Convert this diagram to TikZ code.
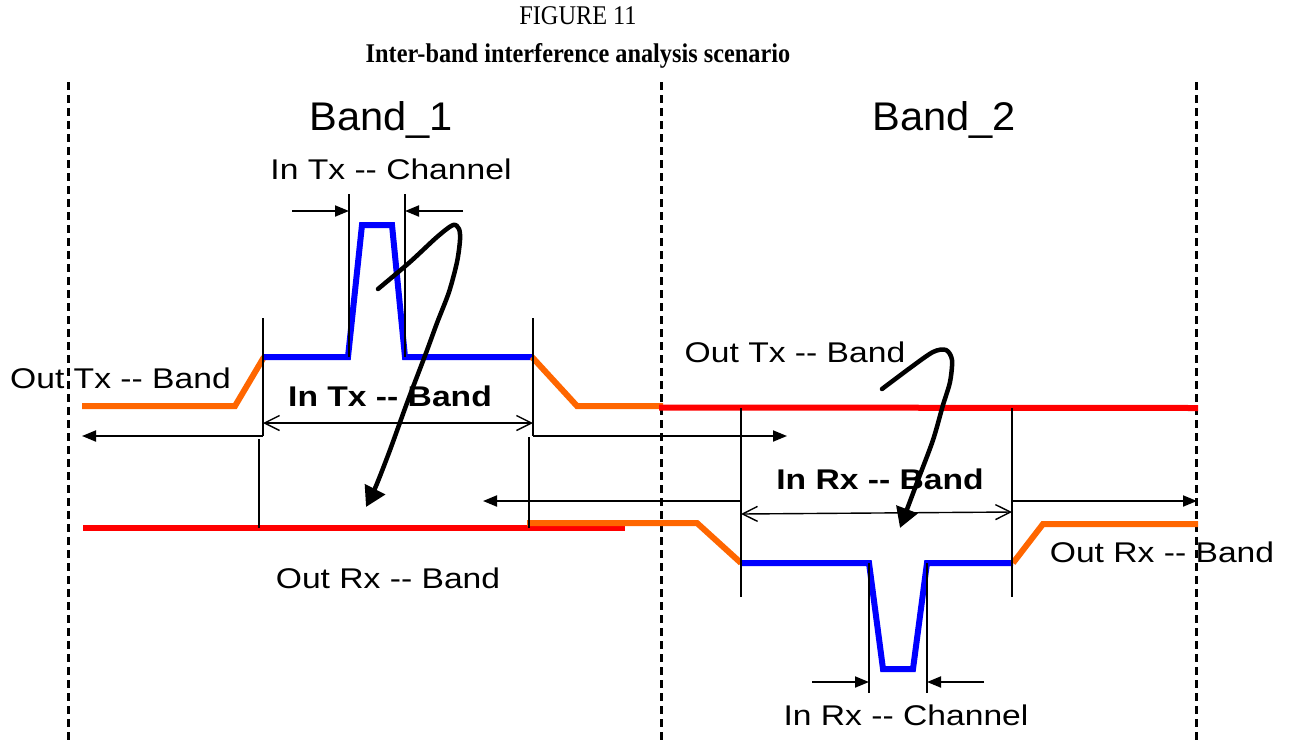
\documentclass[tikz,border=0pt]{standalone}
\usepackage{fontspec}
\setmainfont{Liberation Serif}
\newfontfamily\titlefont[FakeStretch=0.9]{Liberation Serif}
\newfontfamily\labfont[FakeStretch=1.18]{Liberation Sans}
\newfontfamily\bandfont[FakeStretch=1.04]{Liberation Sans}
\usetikzlibrary{arrows.meta}
\definecolor{bandblue}{RGB}{0,0,255}
\definecolor{bandorange}{RGB}{255,102,0}
\definecolor{bandred}{RGB}{255,0,0}
\begin{document}
\begin{tikzpicture}[x=1pt,y=-1pt,
  lbl/.style={font=\labfont\fontsize{28.5}{34}\selectfont, anchor=base, inner sep=0pt},
  boldlbl/.style={font=\labfont\bfseries\fontsize{28.5}{34}\selectfont, anchor=base, inner sep=0pt},
  bandlbl/.style={font=\bandfont\fontsize{40}{46}\selectfont, anchor=base, inner sep=0pt},
  ttl/.style={font=\titlefont\fontsize{27}{32}\selectfont, anchor=base, inner sep=0pt},
  guide/.style={line width=1.7pt},
  dimline/.style={line width=1.4pt, {Straight Barb[length=15pt,width=15pt]}-{Straight Barb[length=15pt,width=15pt]}},
  farrow/.style={line width=1.9pt, -{Triangle[length=14pt,width=11pt]}},
  sepline/.style={line width=3pt, dash pattern=on 8pt off 5pt},
  sigblue/.style={line width=6pt, draw=bandblue},
  sigorange/.style={line width=6pt, draw=bandorange},
  sigred/.style={line width=6pt, draw=bandred},
  curvearrow/.style={line width=4.5pt, line cap=round, line join=round, -{Triangle[length=20pt,width=22pt]}}
]
\useasboundingbox (0,0) rectangle (1291,740);

% titles
\node[ttl] (fig) at (578,24) {FIGURE 11};
\node[ttl,font=\titlefont\bfseries\fontsize{27}{32}\selectfont] (title) at (578,62) {Inter-band interference analysis scenario};

% separators
\coordinate (s1t) at (68,82);   \coordinate (s1b) at (68,740);
\coordinate (s2t) at (661,82);  \coordinate (s2b) at (661,740);
\coordinate (s3t) at (1196,82); \coordinate (s3b) at (1196,740);
\draw[sepline] (s1t) -- (s1b);
\draw[sepline] (s2t) -- (s2b);
\draw[sepline] (s3t) -- (s3b);

% ---------- Band 1 (Tx) ----------
\draw[sigorange] (82,406) -- (235,406) -- (264,357);
\draw[sigblue] (264,357) -- (348,357) -- (362,225) -- (392,225) -- (405,357) -- (532,357);
\draw[sigorange] (532,357) -- (577,406) -- (663,406);
\draw[sigred] (659,407.5) -- (1198,408);

% lower left red and orange
\draw[sigred] (83,528) -- (625,528);
\draw[sigorange] (527,523) -- (697,523) -- (741,563);

% ---------- Band 2 (Rx) ----------
\draw[sigblue] (741,563) -- (869,563) -- (883,669) -- (913,669) -- (927,563) -- (1013,563);
\draw[sigorange] (1013,563) -- (1043,524) -- (1198,524);

% guide lines band 1
\coordinate (g1t) at (263,318); \coordinate (g1b) at (263,436);
\coordinate (g2t) at (533,318); \coordinate (g2b) at (533,436);
\coordinate (c1t) at (349,194); \coordinate (c1b) at (349,357);
\coordinate (c2t) at (405,194); \coordinate (c2b) at (405,357);
\draw[guide] (g1t) -- (g1b);
\draw[guide] (g2t) -- (g2b);
\draw[guide] (c1t) -- (c1b);
\draw[guide] (c2t) -- (c2b);
\coordinate (l1t) at (259,439); \coordinate (l1b) at (259,528);
\coordinate (l2t) at (529,437); \coordinate (l2b) at (529,528);
\draw[guide] (l1t) -- (l1b);
\draw[guide] (l2t) -- (l2b);

% guide lines band 2
\coordinate (r1t) at (741,408); \coordinate (r1b) at (741,597);
\coordinate (r2t) at (1012,408); \coordinate (r2b) at (1012,597);
\draw[guide] (r1t) -- (r1b);
\draw[guide] (r2t) -- (r2b);
\coordinate (d1t) at (869,563); \coordinate (d1b) at (869,693);
\coordinate (d2t) at (927,563); \coordinate (d2b) at (927,693);
\draw[guide] (d1t) -- (d1b);
\draw[guide] (d2t) -- (d2b);

% channel arrows
\coordinate (ca1) at (292,211); \coordinate (ca2) at (463,211);
\draw[farrow] (ca1) -- (c1t |- ca1);
\draw[farrow] (ca2) -- (c2t |- ca2);
\coordinate (rc1) at (812,682); \coordinate (rc2) at (984,682);
\draw[farrow] (rc1) -- (d1t |- rc1);
\draw[farrow] (rc2) -- (d2t |- rc2);

% band dimension lines
\draw[dimline] (263,423) -- (533,423);
\draw[dimline] (741,514) -- (1012,512);

% out-of-band arrows
\coordinate (oa1) at (82,436); \coordinate (oa2) at (787,436);
\draw[farrow] (g1b) -- (oa1);
\draw[farrow] (g2b) -- (oa2);
\coordinate (ob1) at (483,501); \coordinate (ob2) at (1197,501);
\draw[farrow] (r1t |- ob1) -- (ob1);
\draw[farrow] (r2t |- ob2) -- (ob2);

% interference curves
\draw[curvearrow] plot[smooth] coordinates {(378,289) (410,262) (437,237) (453,225) (459,229) (460,240) (457,262) (449,292) (437,323) (426,353) (407,403) (390,450) (376,486) (366,507)};
\draw[curvearrow] plot[smooth] coordinates {(882,389) (910,368) (933,352) (946,350) (952,360) (950,382) (943,405) (933,440) (918,480) (900,528)};

% labels
\node[bandlbl] (band1) at (381,130) {Band\_1};
\node[bandlbl] (band2) at (944,130) {Band\_2};
\node[lbl] (intxch) at (391,179) {In Tx -- Channel};
\node[lbl,anchor=base west] (outtx1) at (10,388) {Out Tx -- Band};
\node[boldlbl] (intxb) at (390,406) {In Tx -- Band};
\node[lbl] (outtx2) at (795,362) {Out Tx -- Band};
\node[boldlbl] (inrxb) at (880,489) {In Rx -- Band};
\node[lbl] (outrx1) at (388,588) {Out Rx -- Band};
\node[lbl] (outrx2) at (1162,562) {Out Rx -- Band};
\node[lbl] (inrxch) at (906,725) {In Rx -- Channel};
\end{tikzpicture}
\end{document}
